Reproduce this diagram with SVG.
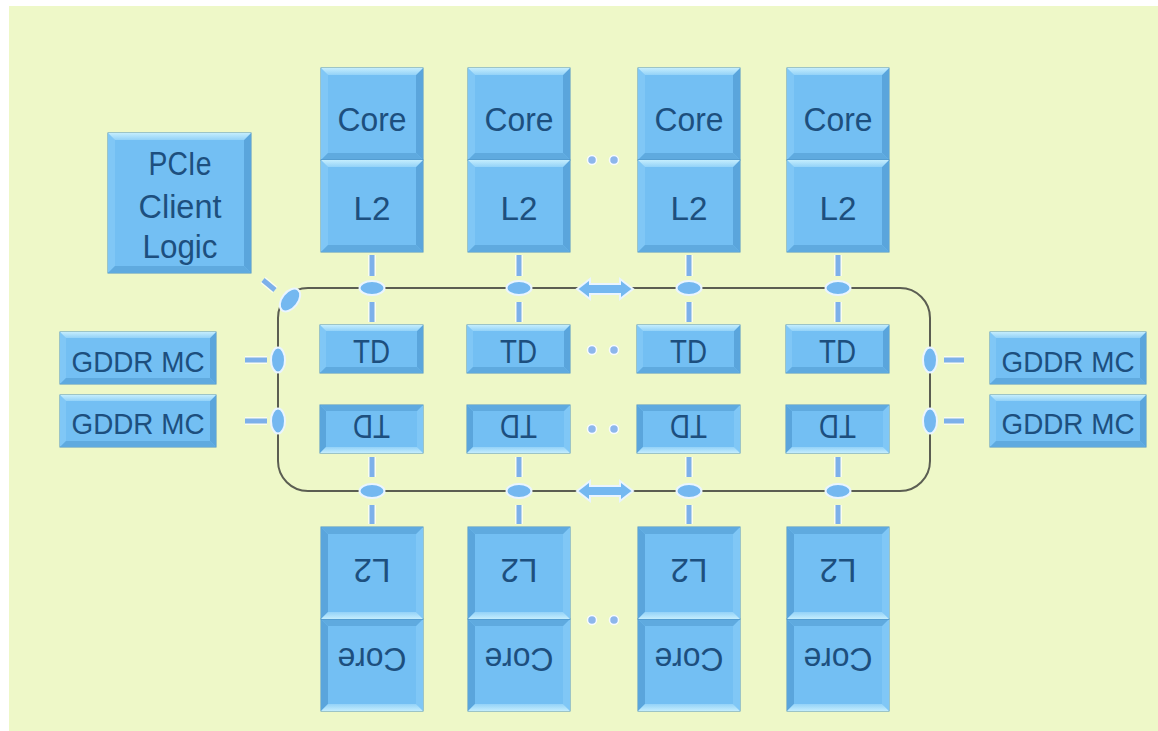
<svg xmlns="http://www.w3.org/2000/svg" xmlns:xlink="http://www.w3.org/1999/xlink" width="1158" height="731" viewBox="0 0 1158 731">
<style>
.face{fill:#73bff3;stroke:#4a8fc4;stroke-width:1}
.bt{fill:url(#gTop)}
.bl{fill:#80c7f6}
.br{fill:#5aa5dc}
.bb{fill:#5faadf}
.t{font-family:"Liberation Sans",Arial,sans-serif;font-size:34px;fill:#1d4f7e;text-anchor:middle}
.g{font-size:30px}
.ring{fill:none;stroke:#5b5e52;stroke-width:2}
.halo{stroke:#ffffff;stroke-opacity:.7;stroke-width:8;fill:none}
.dash{stroke:#7db0ea;stroke-width:5;fill:none}
.node{fill:#74b8f0;stroke:#eaf5ff;stroke-width:2}
.dot{fill:#8db6ec;stroke:#f7fbff;stroke-width:1.5}
</style>
<defs>
<linearGradient id="gTop" x1="0" y1="0" x2="0" y2="1">
<stop offset="0" stop-color="#c4edfd"/>
<stop offset="1" stop-color="#93d2f8"/>
</linearGradient>
<g id="bevA">
<rect class="face" x="0" y="0" width="102" height="92"/>
<path class="bl" d="M0 0 L7 7 V85 L0 92 Z"/>
<path class="br" d="M102 0 V92 L95 85 V7 Z"/>
<path class="bb" d="M0 92 H102 L95 85 H7 Z"/>
<path class="bt" d="M0 0 H102 L95 7 H7 Z"/>
</g>
<g id="bevB">
<rect class="face" x="0" y="0" width="103" height="48"/>
<path class="bl" d="M0 0 L6 6 V42 L0 48 Z"/>
<path class="br" d="M103 0 V48 L97 42 V6 Z"/>
<path class="bb" d="M0 48 H103 L97 42 H6 Z"/>
<path class="bt" d="M0 0 H103 L97 6 H6 Z"/>
</g>
<g id="bevC">
<rect class="face" x="0" y="0" width="156" height="52"/>
<path class="bl" d="M0 0 L6 6 V46 L0 52 Z"/>
<path class="br" d="M156 0 V52 L150 46 V6 Z"/>
<path class="bb" d="M0 52 H156 L150 46 H6 Z"/>
<path class="bt" d="M0 0 H156 L150 6 H6 Z"/>
</g>
<g id="bevD">
<rect class="face" x="0" y="0" width="143" height="140"/>
<path class="bl" d="M0 0 L7 7 V133 L0 140 Z"/>
<path class="br" d="M143 0 V140 L136 133 V7 Z"/>
<path class="bb" d="M0 140 H143 L136 133 H7 Z"/>
<path class="bt" d="M0 0 H143 L136 7 H7 Z"/>
</g>
</defs>

<rect x="0" y="0" width="1158" height="731" fill="#ffffff"/>
<rect x="9" y="6" width="1149" height="725" fill="#eef8c8"/>

<!-- connectors -->
<g id="connectors">
<rect class="ring" x="278" y="288" width="652" height="203" rx="30" ry="30"/>
<g id="vdashes">
<path class="halo" d="M372 255V276M372 302V322M519 255V276M519 302V322M689 255V276M689 302V322M838 255V276M838 302V322M372 457V477M372 505V524M519 457V477M519 505V524M689 457V477M689 505V524M838 457V477M838 505V524M245 360H267M245 421H267M944 360H964M944 421H964M263 280L275 290"/>
<path class="dash" d="M372 255V276M372 302V322M519 255V276M519 302V322M689 255V276M689 302V322M838 255V276M838 302V322M372 457V477M372 505V524M519 457V477M519 505V524M689 457V477M689 505V524M838 457V477M838 505V524M245 360H267M245 421H267M944 360H964M944 421H964M263 280L275 290"/>
</g>
<g id="stops">
<ellipse class="node" cx="372" cy="288" rx="12.5" ry="7"/>
<ellipse class="node" cx="519" cy="288" rx="12.5" ry="7"/>
<ellipse class="node" cx="689" cy="288" rx="12.5" ry="7"/>
<ellipse class="node" cx="838" cy="288" rx="12.5" ry="7"/>
<ellipse class="node" cx="372" cy="491" rx="12.5" ry="7"/>
<ellipse class="node" cx="519" cy="491" rx="12.5" ry="7"/>
<ellipse class="node" cx="689" cy="491" rx="12.5" ry="7"/>
<ellipse class="node" cx="838" cy="491" rx="12.5" ry="7"/>
<ellipse class="node" cx="278" cy="360" rx="7" ry="12.5"/>
<ellipse class="node" cx="278" cy="421" rx="7" ry="12.5"/>
<ellipse class="node" cx="930" cy="360" rx="7" ry="12.5"/>
<ellipse class="node" cx="930" cy="421" rx="7" ry="12.5"/>
<ellipse class="node" cx="290" cy="300" rx="13" ry="8" transform="rotate(-52 290 300)"/>
</g>
<path class="node" d="M577 289 L590 279 V284 H620 V279 L633 289 L620 299 V294 H590 V299 Z"/>
<path class="node" d="M577 491 L590 481 V486 H620 V481 L633 491 L620 501 V496 H590 V501 Z"/>
</g>

<!-- ellipsis dots -->
<g id="ellipsis">
<circle class="dot" cx="592" cy="160" r="4.5"/><circle class="dot" cx="614" cy="160" r="4.5"/>
<circle class="dot" cx="592" cy="350" r="4.5"/><circle class="dot" cx="614" cy="350" r="4.5"/>
<circle class="dot" cx="592" cy="429" r="4.5"/><circle class="dot" cx="614" cy="429" r="4.5"/>
<circle class="dot" cx="592" cy="620" r="4.5"/><circle class="dot" cx="614" cy="620" r="4.5"/>
</g>

<!-- PCIe -->
<g id="pcie" transform="translate(108,133)">
<use xlink:href="#bevD"/>
<text class="t" x="72" y="42" textLength="63" lengthAdjust="spacingAndGlyphs">PCIe</text>
<text class="t" x="72" y="85" textLength="83" lengthAdjust="spacingAndGlyphs">Client</text>
<text class="t" x="72" y="125" textLength="75" lengthAdjust="spacingAndGlyphs">Logic</text>
</g>

<!-- top cores -->
<g id="core-top-1" transform="translate(321,68)">
<use xlink:href="#bevA"/><use xlink:href="#bevA" y="92"/>
<text class="t" x="51" y="63" textLength="69" lengthAdjust="spacingAndGlyphs">Core</text>
<text class="t" x="51" y="152" textLength="37" lengthAdjust="spacingAndGlyphs">L2</text>
</g>
<g id="core-top-2" transform="translate(468,68)">
<use xlink:href="#bevA"/><use xlink:href="#bevA" y="92"/>
<text class="t" x="51" y="63" textLength="69" lengthAdjust="spacingAndGlyphs">Core</text>
<text class="t" x="51" y="152" textLength="37" lengthAdjust="spacingAndGlyphs">L2</text>
</g>
<g id="core-top-3" transform="translate(638,68)">
<use xlink:href="#bevA"/><use xlink:href="#bevA" y="92"/>
<text class="t" x="51" y="63" textLength="69" lengthAdjust="spacingAndGlyphs">Core</text>
<text class="t" x="51" y="152" textLength="37" lengthAdjust="spacingAndGlyphs">L2</text>
</g>
<g id="core-top-4" transform="translate(787,68)">
<use xlink:href="#bevA"/><use xlink:href="#bevA" y="92"/>
<text class="t" x="51" y="63" textLength="69" lengthAdjust="spacingAndGlyphs">Core</text>
<text class="t" x="51" y="152" textLength="37" lengthAdjust="spacingAndGlyphs">L2</text>
</g>

<!-- bottom cores (rotated) -->
<g id="core-bot-1" transform="translate(423,711) rotate(180)">
<use xlink:href="#bevA"/><use xlink:href="#bevA" y="92"/>
<text class="t" x="51" y="63" textLength="69" lengthAdjust="spacingAndGlyphs">Core</text>
<text class="t" x="51" y="152" textLength="37" lengthAdjust="spacingAndGlyphs">L2</text>
</g>
<g id="core-bot-2" transform="translate(570,711) rotate(180)">
<use xlink:href="#bevA"/><use xlink:href="#bevA" y="92"/>
<text class="t" x="51" y="63" textLength="69" lengthAdjust="spacingAndGlyphs">Core</text>
<text class="t" x="51" y="152" textLength="37" lengthAdjust="spacingAndGlyphs">L2</text>
</g>
<g id="core-bot-3" transform="translate(740,711) rotate(180)">
<use xlink:href="#bevA"/><use xlink:href="#bevA" y="92"/>
<text class="t" x="51" y="63" textLength="69" lengthAdjust="spacingAndGlyphs">Core</text>
<text class="t" x="51" y="152" textLength="37" lengthAdjust="spacingAndGlyphs">L2</text>
</g>
<g id="core-bot-4" transform="translate(889,711) rotate(180)">
<use xlink:href="#bevA"/><use xlink:href="#bevA" y="92"/>
<text class="t" x="51" y="63" textLength="69" lengthAdjust="spacingAndGlyphs">Core</text>
<text class="t" x="51" y="152" textLength="37" lengthAdjust="spacingAndGlyphs">L2</text>
</g>

<!-- TD top -->
<g id="td-top-1" transform="translate(320,325)"><use xlink:href="#bevB"/><text class="t" x="51.5" y="38" textLength="37" lengthAdjust="spacingAndGlyphs">TD</text></g>
<g id="td-top-2" transform="translate(467,325)"><use xlink:href="#bevB"/><text class="t" x="51.5" y="38" textLength="37" lengthAdjust="spacingAndGlyphs">TD</text></g>
<g id="td-top-3" transform="translate(637,325)"><use xlink:href="#bevB"/><text class="t" x="51.5" y="38" textLength="37" lengthAdjust="spacingAndGlyphs">TD</text></g>
<g id="td-top-4" transform="translate(786,325)"><use xlink:href="#bevB"/><text class="t" x="51.5" y="38" textLength="37" lengthAdjust="spacingAndGlyphs">TD</text></g>

<!-- TD bottom (rotated) -->
<g id="td-bot-1" transform="translate(423,453) rotate(180)"><use xlink:href="#bevB"/><text class="t" x="51.5" y="38" textLength="37" lengthAdjust="spacingAndGlyphs">TD</text></g>
<g id="td-bot-2" transform="translate(570,453) rotate(180)"><use xlink:href="#bevB"/><text class="t" x="51.5" y="38" textLength="37" lengthAdjust="spacingAndGlyphs">TD</text></g>
<g id="td-bot-3" transform="translate(740,453) rotate(180)"><use xlink:href="#bevB"/><text class="t" x="51.5" y="38" textLength="37" lengthAdjust="spacingAndGlyphs">TD</text></g>
<g id="td-bot-4" transform="translate(889,453) rotate(180)"><use xlink:href="#bevB"/><text class="t" x="51.5" y="38" textLength="37" lengthAdjust="spacingAndGlyphs">TD</text></g>

<!-- GDDR MC -->
<g id="gddr-l1" transform="translate(60,332)"><use xlink:href="#bevC"/><text class="t g" x="78" y="40" textLength="133" lengthAdjust="spacingAndGlyphs">GDDR MC</text></g>
<g id="gddr-l2" transform="translate(60,395)"><use xlink:href="#bevC"/><text class="t g" x="78" y="39" textLength="133" lengthAdjust="spacingAndGlyphs">GDDR MC</text></g>
<g id="gddr-r1" transform="translate(990,332)"><use xlink:href="#bevC"/><text class="t g" x="78" y="40" textLength="133" lengthAdjust="spacingAndGlyphs">GDDR MC</text></g>
<g id="gddr-r2" transform="translate(990,395)"><use xlink:href="#bevC"/><text class="t g" x="78" y="39" textLength="133" lengthAdjust="spacingAndGlyphs">GDDR MC</text></g>
</svg>
